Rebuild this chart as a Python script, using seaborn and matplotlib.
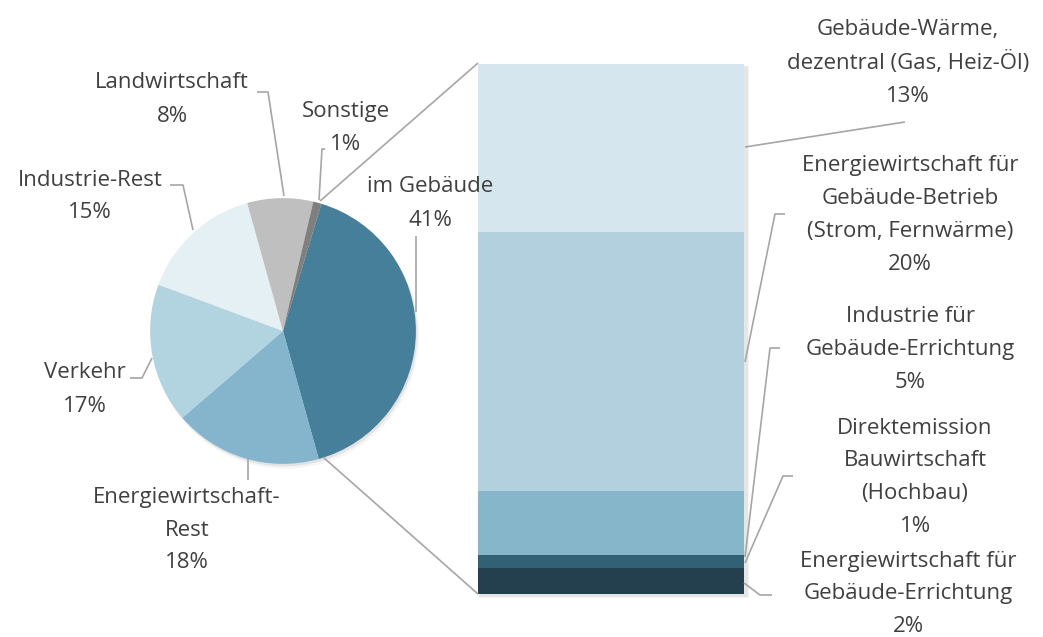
import matplotlib
matplotlib.use("Agg")
import matplotlib.pyplot as plt
import matplotlib.patches as mpatches
import pandas as pd
import seaborn as sns

# pie: share of emissions by sector
pie_labels = ["im Gebäude", "Energiewirtschaft-\nRest", "Verkehr", "Industrie-Rest",
              "Landwirtschaft", "Sonstige"]
pie_values = [41, 18, 17, 15, 8, 1]
pie_colors = ["#467F9A", "#84B5CD", "#B2D3E0", "#E5F0F5", "#BFBFBF", "#7F7F7F"]

# bar: breakdown of "im Gebäude" (top to bottom)
bar_labels = ["Gebäude-Wärme,\ndezentral (Gas, Heiz-Öl)",
              "Energiewirtschaft für\nGebäude-Betrieb\n(Strom, Fernwärme)",
              "Industrie für\nGebäude-Errichtung",
              "Direktemission\nBauwirtschaft\n(Hochbau)",
              "Energiewirtschaft für\nGebäude-Errichtung"]
bar_values = [13, 20, 5, 1, 2]
bar_colors = ["#D6E6EE", "#B2D0DD", "#86B6C9", "#326074", "#243F4E"]

W, H = 1043, 637
TEXT = "#404040"
LINE = "#A6A6A6"
FS = 16
LH = 33  # pixel distance between text lines

sns.set_style("white")
plt.rcParams["font.family"] = ["Open Sans", "DejaVu Sans"]

fig = plt.figure(figsize=(W / 100, H / 100), dpi=100)


def fig_rect(x0, y0, x1, y1):
    return [x0 / W, 1 - y1 / H, (x1 - x0) / W, (y1 - y0) / H]


# ---- pie ----
ax_pie = fig.add_axes(fig_rect(146, 194, 420, 468))
for off, r, a in [(0.03, 0.975, 0.04), (0.018, 0.97, 0.07)]:
    ax_pie.add_patch(mpatches.Circle((off * 0.6, -off), r, color="black", alpha=a,
                                     lw=0, clip_on=False))
wedges, _ = ax_pie.pie(pie_values, colors=pie_colors, startangle=73.2, counterclock=False,
                       radius=0.97, wedgeprops=dict(linewidth=0))
ax_pie.set_xlim(-1.0, 1.0)
ax_pie.set_ylim(-1.0, 1.0)
ax_pie.axis("off")

# ---- stacked bar (cumulative trick, drawn largest first) ----
ax_bar = fig.add_axes(fig_rect(474, 60, 750, 600))
total = sum(bar_values)
px = total / 530
bottom_up = list(reversed(bar_values))
cum = pd.Series(bottom_up).cumsum().tolist()
colors_up = list(reversed(bar_colors))
for d, a in [(4, 0.04), (2.5, 0.06)]:
    ax_bar.add_patch(mpatches.Rectangle((-0.5 + 1 / 266, -d * px), 1.0 + d / 266,
                                        total + (d - 2) * px,
                                        color="black", alpha=a, lw=0, zorder=0,
                                        clip_on=False))
for c, col in reversed(list(zip(cum, colors_up))):
    sns.barplot(x=[0], y=[c], color=col, width=1.0, ax=ax_bar, saturation=1,
                linewidth=0, zorder=2)
ax_bar.set_xlim(-0.5 - 4 / 266, 0.5 + 6 / 266)
ax_bar.set_ylim(-6 * px, total + 4 * px)
ax_bar.axis("off")

# ---- overlay for labels and leader lines (pixel coordinates) ----
ov = fig.add_axes([0, 0, 1, 1], facecolor="none")
ov.set_xlim(0, W)
ov.set_ylim(H, 0)
ov.axis("off")


def label(x, y, text):
    for i, line in enumerate(text.split("\n")):
        ov.text(x, y + i * LH, line, ha="center", va="center", fontsize=FS, color=TEXT)


def leader(pts):
    xs, ys = zip(*pts)
    ov.plot(xs, ys, color=LINE, lw=1.2, solid_capstyle="butt")


pie_pos = [(430, 187), (187, 497), (85, 373), (90, 180), (172, 83), (346, 111)]
for (x, y), name, v in zip(pie_pos, pie_labels, pie_values):
    label(x, y, f"{name}\n{v}%")

bar_pos = [(908, 30), (910, 165), (910, 317), (915, 428), (908, 561)]
for (x, y), name, v in zip(bar_pos, bar_labels, bar_values):
    label(x, y, f"{name}\n{v}%")

# leader lines
leader([(416, 236), (416, 312)])
leader([(248, 458), (248, 480)])
leader([(130, 378), (142, 378), (152, 358)])
leader([(170, 185), (183, 185), (193, 230)])
leader([(257, 92), (268, 92), (284, 196)])
leader([(325, 149), (322, 149), (319, 200)])

leader([(905, 122), (745, 147)])
leader([(785, 214), (775, 214), (745, 362)])
leader([(780, 348), (770, 348), (745, 557)])
leader([(793, 476), (783, 476), (745, 563)])
leader([(772, 595), (760, 595), (744, 583)])

# connectors between pie and bar
leader([(320, 201), (478, 63)])
leader([(323, 457), (478, 594)])

fig.savefig("out.png", dpi=100)
